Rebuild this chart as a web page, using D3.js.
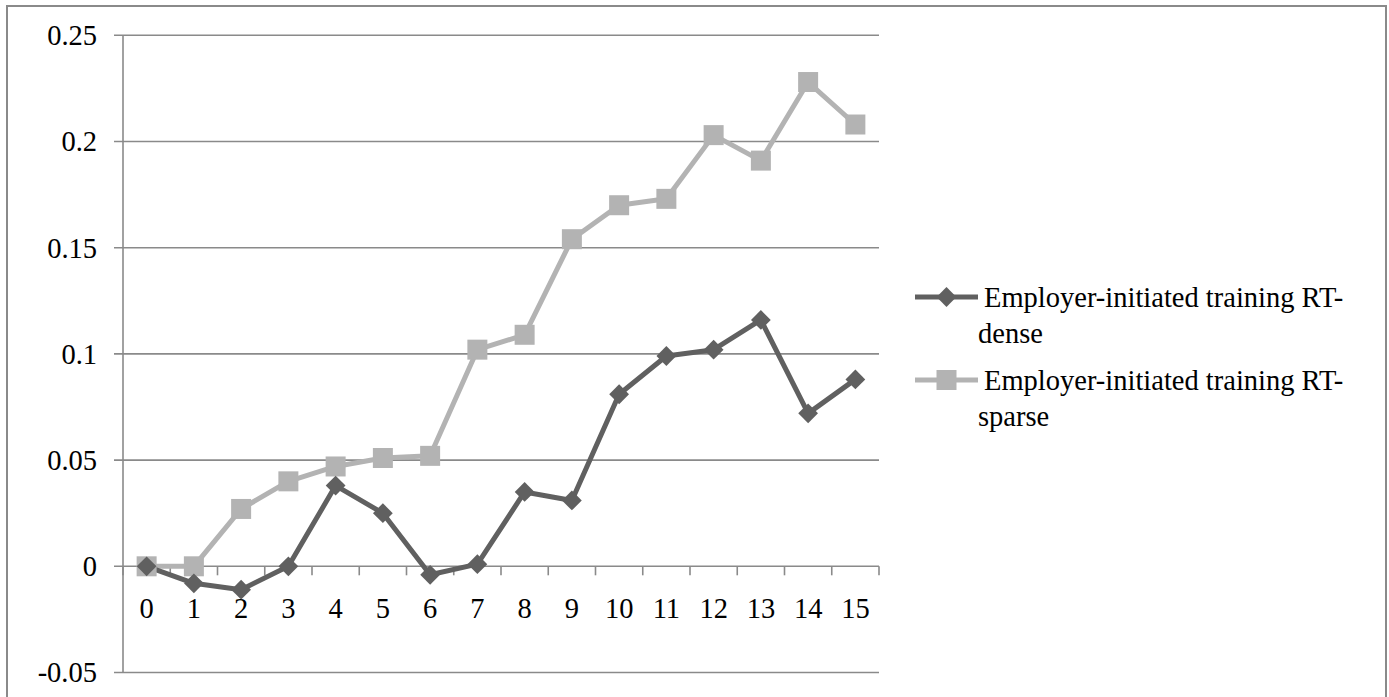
<!DOCTYPE html>
<html>
<head>
<meta charset="utf-8">
<script src="https://cdn.jsdelivr.net/npm/d3@7"></script>
<style>
  body { margin: 0; background: #fff; }
  text { font-family: "Liberation Serif", "Times New Roman", serif; fill: #000; }
</style>
</head>
<body>
<div class="chart"></div>
<script>
// Data
var years = [0, 1, 2, 3, 4, 5, 6, 7, 8, 9, 10, 11, 12, 13, 14, 15];
var denseValues = [0, -0.008, -0.011, 0, 0.038, 0.025, -0.004, 0.001, 0.035, 0.031, 0.081, 0.099, 0.102, 0.116, 0.072, 0.088];
var sparseValues = [0, 0, 0.027, 0.040, 0.047, 0.051, 0.052, 0.102, 0.109, 0.154, 0.170, 0.173, 0.203, 0.191, 0.228, 0.208];
var yTicks = [-0.05, 0, 0.05, 0.1, 0.15, 0.2, 0.25];
var seriesNames = ["Employer-initiated training RT-dense", "Employer-initiated training RT-sparse"];

var svgWidth = 1389;
var svgHeight = 697;

var margin = { top: 35.3, left: 123 };
var width = 879 - 123;
var height = 672.5 - 35.3;

var svg = d3.select(".chart")
  .append("svg")
  .attr("width", svgWidth)
  .attr("height", svgHeight);

// outer frame (runs off the bottom of the picture)
svg.append("rect")
  .attr("x", 7)
  .attr("y", 6)
  .attr("width", 1379)
  .attr("height", 720)
  .attr("fill", "none")
  .attr("stroke", "#8a8a8a")
  .attr("stroke-width", 2);

var chartGroup = svg.append("g")
  .attr("transform", `translate(${margin.left}, ${margin.top})`);

// Scales
var xBand = d3.scaleBand()
  .domain(years)
  .range([0, width]);

var yLinearScale = d3.scaleLinear()
  .domain([-0.05, 0.25])
  .range([height, 0]);

// Gridlines with outward tick
chartGroup.append("g")
  .selectAll("line")
  .data(yTicks)
  .enter()
  .append("line")
  .attr("x1", -9)
  .attr("x2", width)
  .attr("y1", d => yLinearScale(d))
  .attr("y2", d => yLinearScale(d))
  .attr("stroke", "#8a8a8a")
  .attr("stroke-width", 1.6);

// y axis line
chartGroup.append("line")
  .attr("x1", 0).attr("x2", 0)
  .attr("y1", 0).attr("y2", height)
  .attr("stroke", "#8a8a8a")
  .attr("stroke-width", 1.6);

// y tick labels
chartGroup.append("g")
  .selectAll("text")
  .data(yTicks)
  .enter()
  .append("text")
  .attr("x", -26)
  .attr("y", d => yLinearScale(d))
  .attr("dy", "0.35em")
  .attr("text-anchor", "end")
  .attr("font-size", 28.5)
  .text(d => String(d));

// x axis along zero, ticks between categories
var zeroY = yLinearScale(0);
var xTickPos = years.map(d => xBand(d)).concat([width]);
chartGroup.append("g")
  .selectAll("line")
  .data(xTickPos)
  .enter()
  .append("line")
  .attr("x1", d => d)
  .attr("x2", d => d)
  .attr("y1", zeroY)
  .attr("y2", zeroY + 9)
  .attr("stroke", "#8a8a8a")
  .attr("stroke-width", 1.6);

chartGroup.append("g")
  .selectAll("text")
  .data(years)
  .enter()
  .append("text")
  .attr("x", d => xBand(d) + xBand.bandwidth() / 2)
  .attr("y", zeroY + 52)
  .attr("text-anchor", "middle")
  .attr("font-size", 28.5)
  .text(d => d);

// Lines
var xc = d => xBand(d) + xBand.bandwidth() / 2;
var line = d3.line()
  .x((d, i) => xc(years[i]))
  .y(d => yLinearScale(d));

chartGroup.append("path")
  .datum(sparseValues)
  .attr("d", line)
  .attr("fill", "none")
  .attr("stroke", "#b3b3b3")
  .attr("stroke-width", 5)
  .attr("stroke-linejoin", "round");

chartGroup.append("path")
  .datum(denseValues)
  .attr("d", line)
  .attr("fill", "none")
  .attr("stroke", "#606060")
  .attr("stroke-width", 5)
  .attr("stroke-linejoin", "round");

// Markers
var squareSym = d3.symbol().type(d3.symbolSquare).size(400);
var diamondSym = d3.symbol().type(d3.symbolDiamond2).size(250);

chartGroup.append("g")
  .selectAll("path")
  .data(sparseValues)
  .enter()
  .append("path")
  .attr("d", squareSym)
  .attr("transform", (d, i) => `translate(${xc(years[i])}, ${yLinearScale(d)})`)
  .attr("fill", "#b3b3b3");

chartGroup.append("g")
  .selectAll("path")
  .data(denseValues)
  .enter()
  .append("path")
  .attr("d", diamondSym)
  .attr("transform", (d, i) => `translate(${xc(years[i])}, ${yLinearScale(d)})`)
  .attr("fill", "#606060");

// Legend
var legend = [
  { name: seriesNames[0], color: "#606060", sym: diamondSym, y: 297 },
  { name: seriesNames[1], color: "#b3b3b3", sym: squareSym, y: 380 }
];
var lg = svg.append("g");
legend.forEach(function (d) {
  lg.append("line")
    .attr("x1", 915).attr("x2", 978)
    .attr("y1", d.y).attr("y2", d.y)
    .attr("stroke", d.color)
    .attr("stroke-width", 5);
  lg.append("path")
    .attr("d", d.sym)
    .attr("transform", `translate(946.5, ${d.y})`)
    .attr("fill", d.color);
  var parts = d.name.split("RT-");
  lg.append("text")
    .attr("x", 984)
    .attr("y", d.y + 10)
    .attr("font-size", 28.5)
    .text(parts[0] + "RT-");
  lg.append("text")
    .attr("x", 978)
    .attr("y", d.y + 46)
    .attr("font-size", 28.5)
    .text(parts[1]);
});
</script>
</body>
</html>
